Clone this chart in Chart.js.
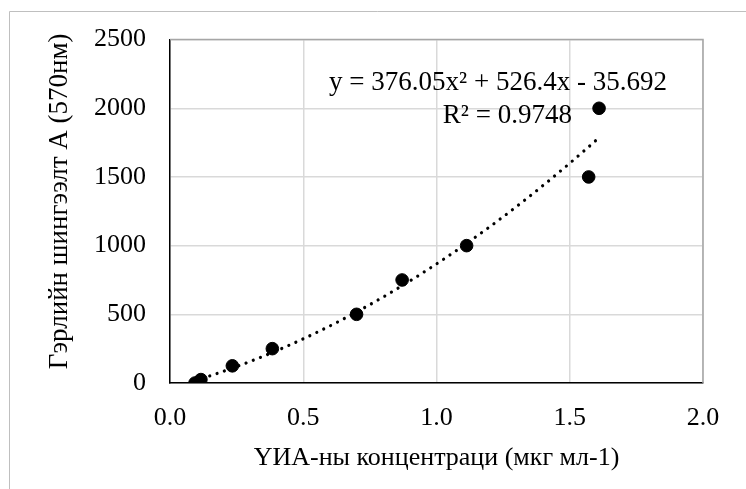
<!DOCTYPE html>
<html lang="mn">
<head>
<meta charset="UTF-8" />
<title>Гэрлийн шингээлт</title>
<script src="https://cdn.jsdelivr.net/npm/chart.js"></script>
<style>
  html, body { margin: 0; padding: 0; background: #fff; }
  .wrap { width: 746px; height: 489px; }
</style>
</head>
<body>
<div class="wrap"><canvas id="calib" width="746" height="489"></canvas></div>
<script>
// measured points: concentration vs absorbance
const concentration = [0.094, 0.116, 0.234, 0.384, 0.70, 0.871, 1.113, 1.571, 1.61];
const absorbance = [0, 25, 125, 250, 500, 750, 1000, 1500, 2000];
// 2nd order trendline as printed on the chart
const trendCoef = [376.05, 526.4, -35.692];
const trendR2 = 0.9748;
const xTicks = [0, 0.5, 1.0, 1.5, 2.0];
const yTicks = [0, 500, 1000, 1500, 2000, 2500];

const points = concentration.map((x, i) => ({ x: x, y: absorbance[i] }));

// sample the fitted curve between the smallest and largest x
const xMin = Math.min(...concentration);
const xMax = Math.max(...concentration);
const trend = [];
for (let i = 0; i <= 80; i++) {
  const x = xMin + (xMax - xMin) * i / 80;
  trend.push({ x: x, y: trendCoef[0] * x * x + trendCoef[1] * x + trendCoef[2] });
}

const serif = '"Liberation Serif", "Times New Roman", serif';
Chart.defaults.font.family = serif;
Chart.defaults.font.size = 26;
Chart.defaults.color = '#000';

const yTitle = 'Гэрлийн шингээлт A (570нм)';
const eqText = 'y = ' + trendCoef[0] + 'x² + ' + trendCoef[1] + 'x - ' + Math.abs(trendCoef[2]);
const r2Text = 'R² = ' + trendR2;

const frame = {
  id: 'frame',
  beforeDraw(chart) {
    const c = chart.ctx;
    c.save();
    c.strokeStyle = '#bfbfbf';
    c.lineWidth = 1;
    c.beginPath();
    c.moveTo(9.5, chart.height);
    c.lineTo(9.5, 11.5);
    c.lineTo(chart.width, 11.5);
    c.stroke();
    c.restore();
  },
  afterDatasetsDraw(chart) {
    const a = chart.chartArea;
    const c = chart.ctx;
    const sx = chart.scales.x, sy = chart.scales.y;
    c.save();
    // plot area edge, top and right
    c.strokeStyle = '#a6a6a6';
    c.lineWidth = 1.5;
    c.beginPath();
    c.moveTo(a.left, a.top);
    c.lineTo(a.right, a.top);
    c.lineTo(a.right, a.bottom);
    c.stroke();
    // trendline label
    c.fillStyle = '#000';
    c.font = '27px ' + serif;
    c.textBaseline = 'alphabetic';
    c.textAlign = 'left';
    c.fillText(eqText, sx.getPixelForValue(0.597), sy.getPixelForValue(2134));
    c.textAlign = 'right';
    c.fillText(r2Text, sx.getPixelForValue(1.508), sy.getPixelForValue(1890));
    // vertical axis title, a little above the plot centre
    c.translate(60, (a.top + a.bottom) / 2 - 10);
    c.rotate(-Math.PI / 2);
    c.textAlign = 'center';
    c.textBaseline = 'middle';
    c.fillText(yTitle, 0, 0);
    c.restore();
  }
};

new Chart(document.getElementById('calib'), {
  type: 'scatter',
  data: {
    datasets: [
      {
        label: 'Хэмжилт',
        data: points,
        backgroundColor: '#000',
        borderColor: '#000',
        pointRadius: 6.3,
        pointHoverRadius: 6.3,
        order: 0
      },
      {
        label: 'Тренд',
        data: trend,
        showLine: true,
        borderColor: '#000',
        borderWidth: 3.2,
        borderDash: [0.01, 7.7],
        borderCapStyle: 'round',
        pointRadius: 0,
        pointHoverRadius: 0,
        fill: false,
        order: 1
      }
    ]
  },
  options: {
    responsive: false,
    animation: false,
    layout: { padding: { top: 37.5, right: 43, left: 0, bottom: 0 } },
    plugins: {
      legend: { display: false },
      tooltip: { enabled: false }
    },
    scales: {
      x: {
        type: 'linear',
        min: 0,
        max: 2,
        afterBuildTicks: s => { s.ticks = xTicks.map(v => ({ value: v })); },
        afterFit: s => { s.height = 106; },
        ticks: { padding: 20, callback: v => Number(v).toFixed(1) },
        grid: { color: '#d9d9d9', lineWidth: 1.5, drawTicks: false },
        border: { color: '#000', width: 1.5 },
        title: {
          display: true,
          text: 'YИА-ны концентраци (мкг мл-1)',
          padding: { top: 0, bottom: 15 }
        }
      },
      y: {
        type: 'linear',
        min: 0,
        max: 2500,
        afterBuildTicks: s => { s.ticks = yTicks.map(v => ({ value: v })); },
        afterFit: s => { s.width = 170; },
        ticks: { padding: 24, callback: v => String(v) },
        grid: { color: '#d9d9d9', lineWidth: 1.5, drawTicks: false },
        border: { color: '#000', width: 1.5 }
      }
    }
  },
  plugins: [frame]
});
</script>
</body>
</html>
